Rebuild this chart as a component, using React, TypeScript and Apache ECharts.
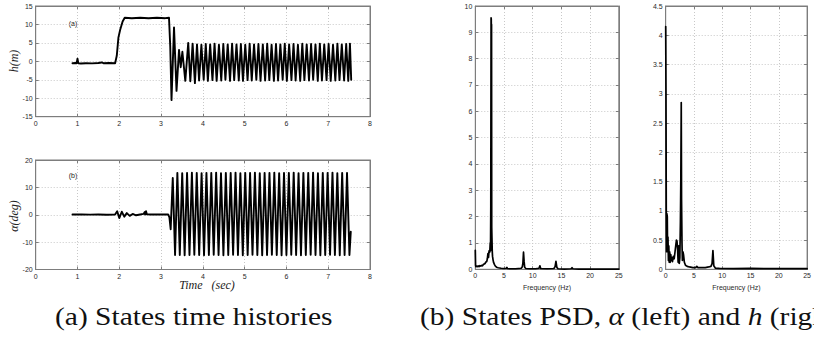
import React, { useEffect, useRef } from 'react';
import * as echarts from 'echarts';

// ---------- data ----------
// (a) h(m): transient part before the steady oscillation [time s, h m]
const hTransient: [number, number][] = [
  [0.88, -0.5], [0.95, -0.45], [0.98, -0.5], [1.0, 0.7], [1.02, -0.55], [1.08, -0.6],
  [1.2, -0.5], [1.35, -0.55], [1.5, -0.45], [1.58, -0.3], [1.62, -0.5], [1.75, -0.45],
  [1.9, -0.5], [1.94, 1.5], [1.98, 6.5], [2.02, 8.5], [2.08, 10.8], [2.13, 11.8],
  [2.3, 11.7], [2.5, 11.8], [2.7, 11.7], [2.9, 11.8], [3.1, 11.7], [3.19, 11.8],
  [3.22, 4.0], [3.25, -10.5], [3.31, 9.2], [3.37, -8.0], [3.43, 3.1], [3.47, -1.6],
  [3.51, 2.6], [3.58, -5.3],
];
// (a) h(m): extrema of the steady oscillation
const hOscTimes: number[] = [
  3.65, 3.70, 3.755, 3.81, 3.86, 3.91, 3.965, 4.02, 4.07, 4.12,
  4.175, 4.23, 4.28, 4.33, 4.385, 4.44, 4.49, 4.54, 4.595, 4.65,
  4.70, 4.75, 4.805, 4.86, 4.91, 4.96, 5.015, 5.07, 5.12, 5.17,
  5.225, 5.28, 5.33, 5.38, 5.435, 5.49, 5.54, 5.59, 5.645, 5.70,
  5.75, 5.80, 5.855, 5.91, 5.96, 6.01, 6.065, 6.12, 6.17, 6.22,
  6.275, 6.33, 6.38, 6.43, 6.485, 6.54, 6.59, 6.64, 6.695, 6.75,
  6.80, 6.85, 6.905, 6.96, 7.01, 7.06, 7.115, 7.17, 7.22, 7.27,
  7.325, 7.38, 7.43, 7.48, 7.52, 7.55,
];
const hOscValues: number[] = [
  5.0, -5.4, 4.8, -5.9, 4.6, -5.2, 4.5, -5.0, 4.7, -5.3,
  4.6, -5.1, 4.8, -5.3, 4.5, -5.2, 4.7, -5.0, 4.6, -5.3,
  4.8, -5.1, 4.6, -5.2, 4.7, -5.3, 4.5, -5.1, 4.8, -5.2,
  4.6, -5.0, 4.7, -5.3, 4.6, -5.2, 4.8, -5.1, 4.5, -5.3,
  4.7, -5.2, 4.6, -5.0, 4.8, -5.3, 4.6, -5.1, 4.7, -5.2,
  4.5, -5.3, 4.8, -5.1, 4.6, -5.2, 4.7, -5.0, 4.6, -5.3,
  4.8, -5.2, 4.6, -5.1, 4.7, -5.3, 4.5, -5.2, 4.8, -5.1,
  4.6, -5.2, 4.7, -5.3, 4.8, -5.0,
];

// (b) alpha(deg): transient part [time s, alpha deg]
const alphaTransient: [number, number][] = [
  [0.88, 0.1], [1.1, 0.1], [1.3, 0.05], [1.5, 0.1], [1.7, 0.0], [1.9, 0.1],
  [1.95, 1.3], [2.0, -1.2], [2.06, 1.1], [2.12, -0.7], [2.18, 0.6], [2.25, -0.4],
  [2.32, 0.3], [2.4, -0.2], [2.5, 0.1], [2.58, 0.3], [2.61, 1.0], [2.62, 0.1],
  [2.64, 1.3], [2.66, 0.2], [2.75, 0.1], [3.0, 0.1], [3.17, 0.1], [3.2, -1.0],
  [3.23, -5.3], [3.28, 13.4], [3.335, -14.7],
];
// (b) alpha(deg): extrema of the steady oscillation
const alphaOscTimes: number[] = [
  3.39, 3.448, 3.506, 3.564, 3.622, 3.68, 3.738, 3.796, 3.854, 3.912,
  3.97, 4.028, 4.086, 4.144, 4.202, 4.26, 4.318, 4.376, 4.434, 4.492,
  4.55, 4.608, 4.666, 4.724, 4.782, 4.84, 4.898, 4.956, 5.014, 5.072,
  5.13, 5.188, 5.246, 5.304, 5.362, 5.42, 5.478, 5.536, 5.594, 5.652,
  5.71, 5.768, 5.826, 5.884, 5.942, 6.0, 6.058, 6.116, 6.174, 6.232,
  6.29, 6.348, 6.406, 6.464, 6.522, 6.58, 6.638, 6.696, 6.754, 6.812,
  6.87, 6.928, 6.986, 7.044, 7.102, 7.16, 7.218, 7.276, 7.334, 7.392,
  7.45, 7.508, 7.54,
];
const alphaOscValues: number[] = [
  15.3, -14.7, 15.2, -14.8, 15.3, -14.7, 15.4, -14.6, 15.3, -14.7,
  15.2, -14.8, 15.3, -14.7, 15.3, -14.6, 15.4, -14.7, 15.2, -14.8,
  15.3, -14.7, 15.3, -14.6, 15.4, -14.7, 15.2, -14.8, 15.3, -14.7,
  15.3, -14.6, 15.4, -14.7, 15.2, -14.8, 15.3, -14.7, 15.3, -14.6,
  15.4, -14.7, 15.2, -14.8, 15.3, -14.7, 15.3, -14.6, 15.4, -14.7,
  15.2, -14.8, 15.3, -14.7, 15.3, -14.6, 15.4, -14.7, 15.2, -14.8,
  15.3, -14.7, 15.3, -14.6, 15.4, -14.7, 15.2, -14.8, 15.3, -14.7,
  15.3, -14.7, -6.2,
];

// PSD of alpha [Hz, PSD]
const psdAlpha: [number, number][] = [
  [0, 0.72], [0.05, 0.15], [0.1, 0.1], [0.2, 0.12], [0.35, 0.1], [0.5, 0.13], [0.65, 0.1],
  [0.8, 0.14], [0.95, 0.12], [1.1, 0.15], [1.25, 0.13], [1.4, 0.18], [1.55, 0.2], [1.7, 0.22],
  [1.85, 0.28], [2.0, 0.3], [2.1, 0.4], [2.2, 0.6], [2.3, 0.45], [2.4, 0.7], [2.5, 0.65],
  [2.55, 0.75], [2.6, 1.0], [2.65, 0.7], [2.7, 2.4], [2.72, 5.5], [2.75, 9.55], [2.78, 9.5],
  [2.8, 8.8], [2.83, 9.3], [2.86, 1.6], [2.9, 1.2], [2.95, 0.7], [3.0, 0.5], [3.1, 0.35],
  [3.2, 0.25], [3.35, 0.18], [3.5, 0.12], [3.7, 0.08], [4.0, 0.06], [4.5, 0.04], [5.0, 0.03],
  [5.4, 0.04], [5.5, 0.07], [5.6, 0.03], [6.0, 0.02], [7.0, 0.02], [8.0, 0.04], [8.2, 0.1],
  [8.3, 0.25], [8.4, 0.65], [8.5, 0.3], [8.6, 0.08], [8.8, 0.03], [9.5, 0.02], [10.5, 0.02],
  [11.1, 0.04], [11.25, 0.13], [11.4, 0.03], [12.5, 0.02], [13.7, 0.03], [13.9, 0.1],
  [14.05, 0.3], [14.2, 0.08], [14.4, 0.02], [15.5, 0.01], [16.7, 0.02], [16.85, 0.06],
  [17.0, 0.02], [18, 0.01], [20, 0.01], [22, 0.01], [25, 0.01],
];
// PSD of h [Hz, PSD]
const psdH: [number, number][] = [
  [0, 4.15], [0.05, 3.0], [0.1, 1.0], [0.15, 0.3], [0.2, 0.95], [0.28, 0.9], [0.33, 0.3],
  [0.4, 0.55], [0.48, 0.15], [0.55, 0.4], [0.62, 0.12], [0.7, 0.3], [0.8, 0.12], [0.9, 0.25],
  [1.0, 0.15], [1.1, 0.2], [1.2, 0.13], [1.35, 0.22], [1.5, 0.18], [1.65, 0.3], [1.8, 0.42],
  [1.9, 0.5], [2.0, 0.48], [2.1, 0.35], [2.2, 0.12], [2.3, 0.4], [2.4, 0.1], [2.5, 0.2],
  [2.6, 0.8], [2.68, 1.6], [2.75, 2.85], [2.8, 1.2], [2.88, 0.45], [2.95, 0.15], [3.05, 0.3],
  [3.15, 0.25], [3.3, 0.12], [3.5, 0.07], [3.8, 0.05], [4.2, 0.04], [4.8, 0.03], [5.3, 0.03],
  [5.5, 0.05], [5.7, 0.03], [6.2, 0.03], [7.0, 0.03], [7.6, 0.04], [8.0, 0.05], [8.2, 0.1],
  [8.35, 0.32], [8.5, 0.06], [8.8, 0.02], [9.5, 0.015], [12, 0.01], [15, 0.015], [18, 0.01],
  [21, 0.01], [25, 0.01],
];

const captionA = '(a) States time histories';
const captionB = '(b) States PSD, {i|α} (left) and {i|h} (right)';

// ---------- chart ----------
const FRAME = '#7d7d7d';
const GRIDC = '#c8c8c8';
const SANS = '"Liberation Sans", Arial, sans-serif';
const SERIF = '"Liberation Serif", "Times New Roman", serif';
const LABEL = { color: '#2a2a2a', fontSize: 7, fontFamily: SANS };

function xAxes(gridIndex: number, min: number, max: number, interval: number, extra: any = {}) {
  return [
    {
      type: 'value', gridIndex, min, max, interval, position: 'bottom',
      axisLine: { show: true, onZero: false, lineStyle: { color: FRAME, width: 1 } },
      axisTick: { show: true, inside: true, length: 3, lineStyle: { color: FRAME } },
      axisLabel: { ...LABEL, margin: 3 },
      splitLine: { show: true, lineStyle: { color: GRIDC, type: [1, 2], width: 1 } },
      ...extra,
    },
    {
      type: 'value', gridIndex, min, max, interval, position: 'top',
      axisLine: { show: true, onZero: false, lineStyle: { color: FRAME, width: 1 } },
      axisTick: { show: true, inside: true, length: 3, lineStyle: { color: FRAME } },
      axisLabel: { show: false },
      splitLine: { show: false },
    },
  ];
}
function yAxes(gridIndex: number, min: number, max: number, interval: number) {
  return [
    {
      type: 'value', gridIndex, min, max, interval, position: 'left',
      axisLine: { show: true, onZero: false, lineStyle: { color: FRAME, width: 1 } },
      axisTick: { show: true, inside: true, length: 3, lineStyle: { color: FRAME } },
      axisLabel: { ...LABEL, margin: 3 },
      splitLine: { show: true, lineStyle: { color: GRIDC, type: [1, 2], width: 1 } },
    },
    {
      type: 'value', gridIndex, min, max, interval, position: 'right',
      axisLine: { show: true, onZero: false, lineStyle: { color: FRAME, width: 1 } },
      axisTick: { show: true, inside: true, length: 3, lineStyle: { color: FRAME } },
      axisLabel: { show: false },
      splitLine: { show: false },
    },
  ];
}

function lineSeries(idx: number, data: [number, number][], width: number) {
  return {
    type: 'line', xAxisIndex: idx * 2, yAxisIndex: idx * 2, data,
    showSymbol: false, symbol: 'none', silent: true,
    lineStyle: { color: '#000', width, join: 'round', cap: 'round' },
  };
}

const centered = { align: 'center', verticalAlign: 'middle', textAlign: 'center', textVerticalAlign: 'middle' };
const leftMid = { align: 'left', verticalAlign: 'middle', textAlign: 'left', textVerticalAlign: 'middle' };

export default function App() {
  const ref = useRef<HTMLDivElement>(null);
  useEffect(() => {
    if (!ref.current) return;
    const chart = echarts.init(ref.current, null, { renderer: 'svg' });

    const hData: [number, number][] = [
      ...hTransient,
      ...hOscTimes.map((t, i) => [t, hOscValues[i]] as [number, number]),
    ];
    const alphaData: [number, number][] = [
      ...alphaTransient,
      ...alphaOscTimes.map((t, i) => [t, alphaOscValues[i]] as [number, number]),
    ];

    const psdName = {
      name: 'Frequency (Hz)', nameLocation: 'middle', nameGap: 14,
      nameTextStyle: { ...LABEL },
    };

    chart.setOption({
      animation: false,
      backgroundColor: '#fff',
      grid: [
        { left: 35.7, top: 6, width: 334.3, height: 110.7, show: true, borderColor: FRAME, borderWidth: 1 },
        { left: 35.7, top: 160, width: 334.3, height: 109.5, show: true, borderColor: FRAME, borderWidth: 1 },
        { left: 475.3, top: 6, width: 143.5, height: 263.3, show: true, borderColor: FRAME, borderWidth: 1 },
        { left: 665.7, top: 6, width: 144.3, height: 263.3, show: true, borderColor: FRAME, borderWidth: 1 },
      ],
      xAxis: [
        ...xAxes(0, 0, 8, 1),
        ...xAxes(1, 0, 8, 1),
        ...xAxes(2, 0, 25, 5, psdName),
        ...xAxes(3, 0, 25, 5, psdName),
      ],
      yAxis: [
        ...yAxes(0, -15, 15, 5),
        ...yAxes(1, -20, 20, 10),
        ...yAxes(2, 0, 10, 1),
        ...yAxes(3, 0, 4.5, 0.5),
      ],
      series: [
        lineSeries(0, hData, 1.9),
        lineSeries(1, alphaData, 1.9),
        lineSeries(2, psdAlpha, 1.7),
        lineSeries(3, psdH, 1.7),
      ],
      graphic: [
        { type: 'text', x: 73, y: 23, style: { text: '(a)', fill: '#222', fontSize: 7, fontFamily: SANS, ...centered } },
        { type: 'text', x: 73, y: 175, style: { text: '(b)', fill: '#222', fontSize: 7, fontFamily: SANS, ...centered } },
        { type: 'text', x: 14, y: 61, rotation: Math.PI / 2, style: { text: 'h(m)', fill: '#222', fontSize: 12, fontStyle: 'italic', fontFamily: SERIF, ...centered } },
        { type: 'text', x: 14, y: 216, rotation: Math.PI / 2, style: { text: 'α(deg)', fill: '#222', fontSize: 12, fontStyle: 'italic', fontFamily: SERIF, ...centered } },
        { type: 'text', x: 207, y: 285, style: { text: 'Time   (sec)', fill: '#222', fontSize: 12, fontStyle: 'italic', fontFamily: SERIF, ...centered } },
        { type: 'text', x: 55, y: 317, scaleX: 1.18, style: { text: captionA, fill: '#111', fontSize: 25, fontFamily: SERIF, ...leftMid } },
        { type: 'text', x: 420, y: 317, scaleX: 1.18, style: { text: captionB, fill: '#111', fontSize: 25, fontFamily: SERIF, ...leftMid, rich: { i: { fontSize: 25, fontFamily: SERIF, fontStyle: 'italic', fill: '#111' } } } },
      ],
    });
    return () => chart.dispose();
  }, []);
  return <div ref={ref} style={{ position: 'absolute', left: 0, top: 0, width: 814, height: 354 }} />;
}
